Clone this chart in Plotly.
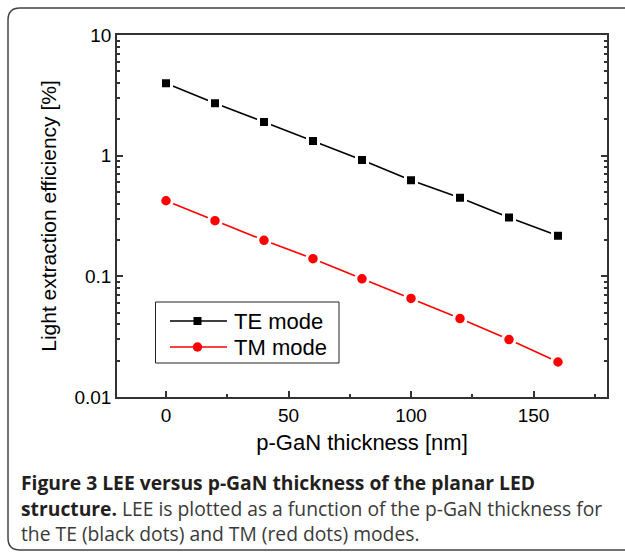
import plotly.graph_objects as go

thickness = [0, 20, 40, 60, 80, 100, 120, 140, 160]
te_mode = [3.99, 2.72, 1.90, 1.32, 0.921, 0.625, 0.448, 0.308, 0.217]
tm_mode = [0.423, 0.289, 0.199, 0.140, 0.0953, 0.0656, 0.0447, 0.0299, 0.0195]
series_names = ["TE mode", "TM mode"]

x_major = [0, 50, 100, 150]
x_minor = [25, 75, 125, 175]
y_major = [0.01, 0.1, 1, 10]
y_major_text = ["0.01", "0.1", "1", "10"]
y_minor = [m * d for d in (0.01, 0.1, 1) for m in range(2, 10)]

W, H = 625, 553
L, R, T, B = 117, 607, 35, 397
FONT = "Liberation Sans, Arial, sans-serif"


def px(x):
    return (x - L) / (R - L)


def py(y):
    return (B - y) / (B - T)


fig = go.Figure()
fig.add_trace(go.Scatter(
    x=thickness, y=te_mode, name=series_names[0], mode="lines+markers",
    line=dict(color="black", width=1.6),
    marker=dict(symbol="square", size=11, color="black", line=dict(color="white", width=3)),
))
fig.add_trace(go.Scatter(
    x=thickness, y=tm_mode, name=series_names[1], mode="lines+markers",
    line=dict(color="#ff0000", width=1.6),
    marker=dict(symbol="circle", size=12.5, color="#ff0000", line=dict(color="white", width=3)),
))

axis_font = dict(family=FONT, size=19, color="black")

fig.update_xaxes(
    range=[-20, 180], tickmode="array", tickvals=x_major,
    ticks="inside", ticklen=6, tickwidth=1.5, tickcolor="#333",
    minor=dict(tickmode="array", tickvals=x_minor, ticks="inside", ticklen=3, tickwidth=1.5, tickcolor="#333"),
    showline=True, linecolor="#333", linewidth=1.5, mirror=True,
    showgrid=False, zeroline=False, tickfont=axis_font,
    title=dict(text="p-GaN thickness [nm]", font=dict(family=FONT, size=22, color="black"), standoff=10),
)
fig.update_yaxes(
    type="log", range=[-2, 1], tickmode="array", tickvals=y_major, ticktext=y_major_text,
    ticks="inside", ticklen=6, tickwidth=1.5, tickcolor="#333",
    minor=dict(tickmode="array", tickvals=y_minor, ticks="inside", ticklen=3, tickwidth=1.5, tickcolor="#333"),
    showline=True, linecolor="#333", linewidth=1.5, mirror="ticks",
    showgrid=False, zeroline=False, tickfont=axis_font,
    title=dict(text="Light extraction efficiency [%]", font=dict(family=FONT, size=21, color="black"), standoff=12),
)

# rounded frame around the figure
x0, y0, x1, y1, r = 8, 8, 660, 550, 12
path = (
    f"M {px(x1)} {py(y0)} L {px(x0 + r)} {py(y0)} "
    f"Q {px(x0)} {py(y0)} {px(x0)} {py(y0 + r)} "
    f"L {px(x0)} {py(y1 - r)} "
    f"Q {px(x0)} {py(y1)} {px(x0 + r)} {py(y1)} "
    f"L {px(x1)} {py(y1)}"
)
fig.add_shape(type="path", path=path, xref="paper", yref="paper",
              line=dict(color="#444", width=1.5), layer="below")

# custom legend (box, sample lines, sample markers, labels)
fig.add_shape(type="rect", xref="paper", yref="paper",
              x0=px(155.5), x1=px(339), y0=py(302), y1=py(363),
              line=dict(color="#222", width=1), fillcolor="white", layer="above")
legend_rows = [(321, "black", "square", 8), (347, "#ff0000", "circle", 9.5)]
for (ly, col, sym, sz), name in zip(legend_rows, series_names):
    fig.add_shape(type="line", xref="paper", yref="paper",
                  x0=px(170), x1=px(227), y0=py(ly), y1=py(ly),
                  line=dict(color=col, width=1.6), layer="above")
    cx = 197.5
    fig.add_shape(type="rect" if sym == "square" else "circle", xref="paper", yref="paper",
                  x0=px(cx - sz / 2), x1=px(cx + sz / 2), y0=py(ly - sz / 2), y1=py(ly + sz / 2),
                  line=dict(width=0), fillcolor=col, layer="above")
    fig.add_annotation(x=px(232), y=py(ly), xref="paper", yref="paper", text=name,
                       showarrow=False, xanchor="left", yanchor="middle",
                       font=dict(family=FONT, size=22, color="black"))

cap_font = dict(family="Open Sans, sans-serif", size=19.3, color="#231f20")
captions = [
    (482, "<b>Figure 3 LEE versus p-GaN thickness of the planar LED</b>"),
    (508, "<b>structure.</b> <span style='color:#3a3a3a'>LEE is plotted as a function of the p-GaN thickness for</span>"),
    (533, "<span style='color:#3a3a3a'>the TE (black dots) and TM (red dots) modes.</span>"),
]
for yy, txt in captions:
    fig.add_annotation(x=px(19), y=py(yy), xref="paper", yref="paper", text=txt,
                       showarrow=False, xanchor="left", yanchor="middle", font=cap_font)

fig.update_layout(
    width=W, height=H,
    margin=dict(l=L, r=W - R, t=T, b=H - B),
    paper_bgcolor="white", plot_bgcolor="white",
    showlegend=False,
)

fig.write_html("out.html")
